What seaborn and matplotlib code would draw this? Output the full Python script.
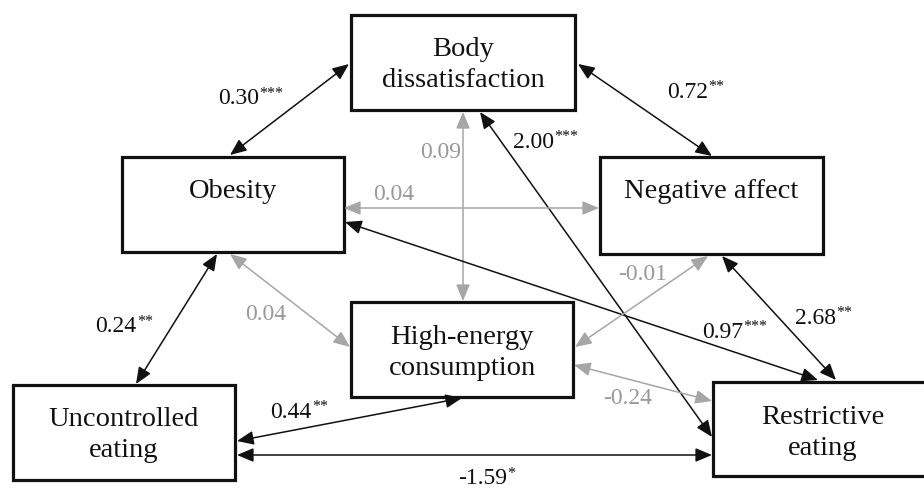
import matplotlib
matplotlib.use("Agg")
import matplotlib.pyplot as plt
from matplotlib.patches import Rectangle, FancyArrowPatch
import seaborn as sns

# ---------------- data ----------------
node_labels = ["Body\ndissatisfaction", "Obesity", "Negative affect",
               "High-energy\nconsumption", "Uncontrolled\neating", "Restrictive\neating"]
edge_source = [0, 0, 0, 0, 1, 1, 2, 2, 3, 1, 1, 4, 4]
edge_target = [1, 2, 3, 5, 2, 5, 5, 3, 5, 3, 4, 3, 5]
edge_coef = ["0.30", "0.72", "0.09", "2.00", "0.04", "0.97", "2.68",
             "-0.01", "-0.24", "0.04", "0.24", "0.44", "-1.59"]
edge_stars = ["***", "**", "", "***", "", "***", "**", "", "", "", "**", "**", "*"]

# ---------------- layout (pixels) ----------------
box_rect = [(351, 16, 575, 111), (122, 158, 344, 253), (600, 158, 823, 255),
            (351, 303, 573, 398), (13, 386, 235, 481), (713, 383, 935, 477)]
text_pos = [(463, 65), (233, 191), (711, 192), (462, 353), (124, 435), (823, 433)]
edge_ends = [((349, 65), (230, 156)), ((578, 65), (712, 157)), ((463, 113), (463, 302)),
             ((480, 113), (712, 438)), ((344, 209), (599, 209)), ((345, 223), (818, 381)),
             ((722, 257), (836, 381)), ((708, 257), (575, 348)), ((574, 366), (712, 402)),
             ((230, 255), (350, 348)), ((217, 255), (136, 385)), ((237, 442), (462, 399)),
             ((237, 456), (712, 456))]
label_pos = [(218, 99), (667, 92), (420, 152), (513, 142), (373, 195), (702, 332),
             (795, 318), (618, 275), (603, 399), (245, 314), (95, 327), (270, 412),
             (458, 479)]

BLACK = "#111111"
GRAY = "#a6a6a6"
GRAY_TXT = "#999999"

sns.set_theme(style="white")
plt.rcParams["font.family"] = ["Liberation Serif", "DejaVu Serif"]

fig = plt.figure(figsize=(9.24, 4.89), dpi=100)
ax = fig.add_axes([0, 0, 1, 1])
ax.set_xlim(0, 924)
ax.set_ylim(489, 0)
ax.axis("off")

# boxes
for (x0, y0, x1, y1), lab, (tx, ty) in zip(box_rect, node_labels, text_pos):
    ax.add_patch(Rectangle((x0, y0), x1 - x0, y1 - y0, fill=True, facecolor="white",
                           edgecolor=BLACK, lw=2.3, zorder=1))
    ax.text(tx, ty, lab, ha="center", va="center", fontsize=20.5, color="#111111",
            linespacing=1.3, zorder=5)

# arrows
for (pa, pb), st in zip(edge_ends, edge_stars):
    col = BLACK if st else GRAY
    arr = FancyArrowPatch(pa, pb, arrowstyle="<|-|>,head_length=1.0,head_width=0.42",
                          mutation_scale=10, lw=1.1, color=col, shrinkA=0, shrinkB=0,
                          zorder=3)
    ax.add_patch(arr)

# coefficient labels
for (lx, ly), c, st in zip(label_pos, edge_coef, edge_stars):
    col = "#111111" if st else GRAY_TXT
    t = ax.text(lx, ly, c, ha="left", va="center", fontsize=17, color=col, zorder=6)
    if st:
        ax.annotate(st, xy=(1, 1), xycoords=t, ha="left", va="top", fontsize=11.5,
                    color=col, xytext=(0.5, 2), textcoords="offset points", zorder=6)

fig.savefig("out.png", dpi=100, facecolor="white")
